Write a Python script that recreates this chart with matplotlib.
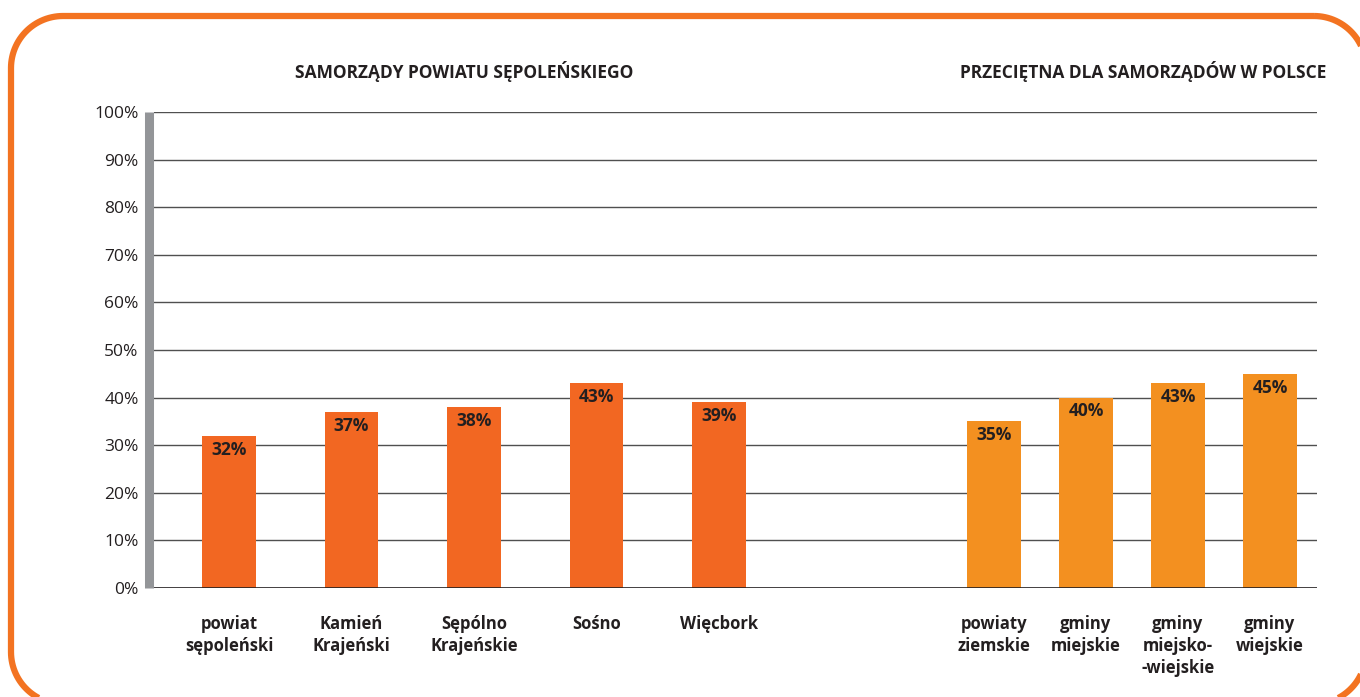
import numpy as np
import matplotlib
matplotlib.use("Agg")
import matplotlib.pyplot as plt
from matplotlib.patches import PathPatch
from matplotlib.path import Path
from matplotlib.transforms import Affine2D

# --- data -------------------------------------------------------------
local_labels = ["powiat\nsępoleński", "Kamień\nKrajeński", "Sępólno\nKrajeńskie",
                "Sośno", "Więcbork"]
local_values = [32, 37, 38, 43, 39]

national_labels = ["powiaty\nziemskie", "gminy\nmiejskie", "gminy\nmiejsko-\n-wiejskie",
                   "gminy\nwiejskie"]
national_values = [35, 40, 43, 45]

yticks = [0, 10, 20, 30, 40, 50, 60, 70, 80, 90, 100]
ytick_labels = [f"{v}%" for v in yticks]

title_local = "SAMORZĄDY POWIATU SĘPOLEŃSKIEGO"
title_national = "PRZECIĘTNA DLA SAMORZĄDÓW W POLSCE"

# --- style ------------------------------------------------------------
W, H, DPI = 1360, 697, 100
TEXT = "#231F20"
C_LOCAL = "#F26722"
C_NAT = "#F39020"
FRAME = "#F37321"
plt.rcParams["font.family"] = ["Open Sans", "DejaVu Sans"]

fig = plt.figure(figsize=(W / DPI, H / DPI), dpi=DPI)


def rounded_rect(x0, y0, x1, y1, r, n=30):
    """Closed rounded-rectangle outline in pixel units (y downwards)."""
    pts = []
    corners = [(x1 - r, y0 + r, -90, 0), (x1 - r, y1 - r, 0, 90),
               (x0 + r, y1 - r, 90, 180), (x0 + r, y0 + r, 180, 270)]
    for cx, cy, a0, a1 in corners:
        t = np.radians(np.linspace(a0, a1, n))
        pts.extend(zip(cx + r * np.cos(t), cy + r * np.sin(t)))
    pts.append(pts[0])
    return np.array(pts)


outline = rounded_rect(11, 16, 1366, 704, 52)
outline[:, 1] = H - outline[:, 1]
frame = PathPatch(Path(outline), fill=False, edgecolor=FRAME, linewidth=4.5,
                  transform=Affine2D().scale(1 / W, 1 / H) + fig.transFigure,
                  zorder=0)
fig.patches.append(frame)

# axes placed in pixel terms
ax_l, ax_r, ax_t, ax_b = 154, 1317, 112, 588
ax = fig.add_axes([ax_l / W, 1 - ax_b / H, (ax_r - ax_l) / W, (ax_b - ax_t) / H])

slot = 122.5  # pixel width of one local slot, used as x unit
xmax = (ax_r - ax_l) / slot
x_local = (229 - ax_l) / slot + np.arange(len(local_values))
x_nat = (994 - ax_l) / slot + np.arange(len(national_values)) * (92 / slot)
bar_w = 53.5 / slot

ax.set_xlim(0, xmax)
ax.set_ylim(0, 100)

for y in yticks[1:]:
    ax.axhline(y, color="#505050", lw=1.0, zorder=1)
ax.axhline(0, color=TEXT, lw=1.2, zorder=3)

ax.bar(x_local, local_values, width=bar_w, color=C_LOCAL, zorder=2)
ax.bar(x_nat, national_values, width=bar_w, color=C_NAT, zorder=2)

for xs, vals in ((x_local, local_values), (x_nat, national_values)):
    for x, v in zip(xs, vals):
        ax.annotate(f"{v}%", (x, v), xytext=(0, -10), textcoords="offset points",
                    ha="center", va="center", fontsize=12.5, fontweight="bold",
                    color=TEXT, zorder=4)

# category labels below the baseline
for xs, labels in ((x_local, local_labels), (x_nat, national_labels)):
    for x, lab in zip(xs, labels):
        ax.annotate(lab, (x, 0), xytext=(0, -19.5), textcoords="offset points",
                    ha="center", va="top", fontsize=12, fontweight="bold",
                    color=TEXT, linespacing=1.27)

ax.set_xticks([])
ax.set_yticks(yticks)
ax.set_yticklabels(ytick_labels)
ax.tick_params(axis="y", length=0, pad=7.7, labelsize=12.5, labelcolor=TEXT)

for s in ("top", "right", "bottom"):
    ax.spines[s].set_visible(False)
ax.spines["left"].set_color("#939598")
ax.spines["left"].set_linewidth(6.5)
ax.spines["left"].set_position(("outward", 3.3))
ax.spines["left"].set_capstyle("butt")

fig.text(464 / W, 1 - 72 / H, title_local, ha="center", va="center",
         fontsize=12.5, fontweight="bold", color=TEXT)
fig.text(1326 / W, 1 - 72 / H, title_national, ha="right", va="center",
         fontsize=12.5, fontweight="bold", color=TEXT)

fig.savefig("out.png", dpi=DPI, facecolor="white")
